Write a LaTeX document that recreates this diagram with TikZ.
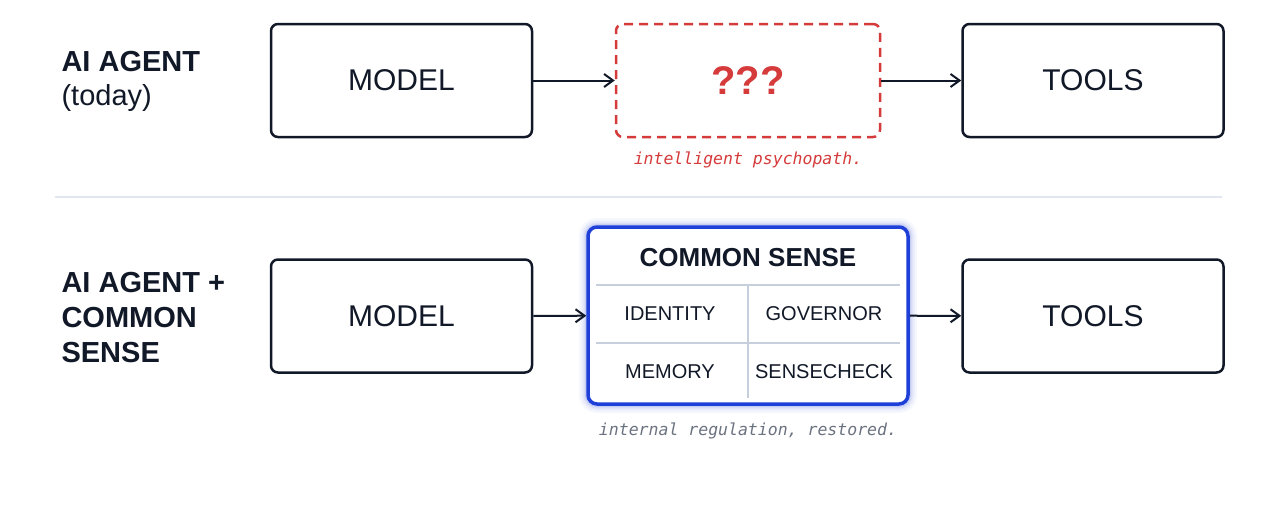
\documentclass[tikz,border=0pt]{standalone}
\usepackage{fontspec}
\setmainfont{Liberation Sans}
\setmonofont{DejaVu Sans Mono}
\usetikzlibrary{arrows.meta}
\definecolor{ink}{HTML}{111827}
\definecolor{redc}{HTML}{D63B3B}
\definecolor{bluec}{HTML}{1E3FD8}
\definecolor{sep}{HTML}{E2E6EE}
\definecolor{gridc}{HTML}{C8CFDC}
\definecolor{capg}{HTML}{6B7280}
\begin{document}
\begin{tikzpicture}[x=1pt,y=-1pt,
  box/.style={draw=ink,line width=2.5pt,rounded corners=7pt,minimum width=261pt,minimum height=113pt,font=\fontsize{30}{32}\selectfont,text=ink},
  arr/.style={-{Straight Barb[length=9pt,width=13pt]},line width=2pt,draw=ink},
  lbl/.style={anchor=west,font=\bfseries\fontsize{29}{35}\selectfont,text=ink,align=left},
  cell/.style={font=\fontsize{20}{22}\selectfont,text=ink},
  captxt/.style={font=\ttfamily\itshape\fontsize{16.5}{18}\selectfont}]
\useasboundingbox (0,0) rectangle (1280,525);
\fill[white] (0,0) rectangle (1280,525);
% row 1
\node[lbl] (l1) at (58,62) {AI AGENT};
\node[anchor=west,font=\fontsize{29}{33}\selectfont,text=ink] (l1b) at (58,98) {(today)};
\node[box] (m1) at (401.5,80.5) {MODEL};
\node[box,draw=redc,dash pattern=on 9pt off 6pt,text=redc,font=\bfseries\fontsize{40}{44}\selectfont,minimum width=264pt] (q) at (748,80.5) {???};
\node[box] (t1) at (1093,80.5) {TOOLS};
\draw[arr] (m1) -- (q);
\draw[arr] (q) -- (t1);
\node[captxt,text=redc] (c1) at (748,160) {intelligent psychopath.};
\coordinate (s1) at (55,197); \coordinate (s2) at (1222,197);
\draw[sep,line width=1.5pt] (s1) -- (s2);
% row 2
\node[lbl] (l2) at (58,318) {AI AGENT +\\COMMON\\SENSE};
\node[box] (m2) at (401.5,316) {MODEL};
\node[box] (t2) at (1093,316) {TOOLS};
\foreach \w/\o in {18/0.04,13/0.06,9/0.08,6/0.1}{
  \draw[bluec,opacity=\o,line width=\w pt,rounded corners=9pt] (588,227) rectangle (908,404);}
\node[draw=bluec,line width=3.5pt,rounded corners=9pt,fill=white,minimum width=320pt,minimum height=177pt] (cs) at (748,315.5) {};
\node[font=\bfseries\fontsize{26}{28}\selectfont,text=ink] (cst) at (748,258) {COMMON SENSE};
\coordinate (h1a) at (596,285); \coordinate (h1b) at (900,285);
\coordinate (h2a) at (596,343); \coordinate (h2b) at (900,343);
\coordinate (va) at (748,285); \coordinate (vb) at (748,398);
\draw[gridc,line width=1.5pt] (h1a)--(h1b) (h2a)--(h2b) (va)--(vb);
\node[cell] (id) at (670,314) {IDENTITY};
\node[cell] (gv) at (824,314) {GOVERNOR};
\node[cell] (mm) at (670,372) {MEMORY};
\node[cell] (sc) at (824,372) {SENSECHECK};
\draw[arr] (m2) -- (cs);
\draw[arr] (cs) -- (t2);
\node[captxt,text=capg] (c2) at (748,431) {internal regulation, restored.};
\end{tikzpicture}
\end{document}
